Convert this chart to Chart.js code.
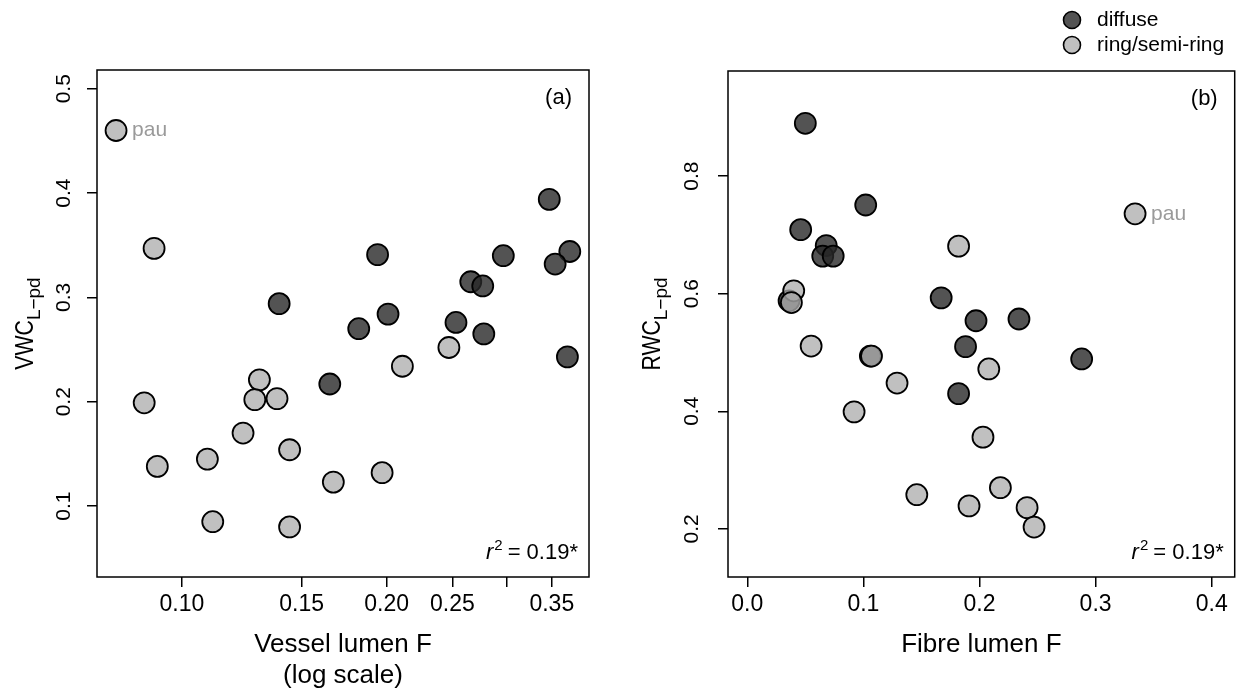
<!DOCTYPE html>
<html>
<head>
<meta charset="utf-8">
<title>Leaf water content vs lumen fraction</title>
<script src="https://cdn.jsdelivr.net/npm/chart.js@4.4.1/dist/chart.umd.min.js"></script>
<style>
  html, body { margin: 0; padding: 0; background: #fff; }
  #wrap { position: relative; width: 1247px; height: 697px; overflow: hidden; }
  #wrap canvas { position: absolute; top: 0; }
  #chart-a { left: 0; }
  #chart-b { left: 623px; }
</style>
</head>
<body>
<div id="wrap">
  <canvas id="chart-a" width="623" height="697"></canvas>
  <canvas id="chart-b" width="624" height="697"></canvas>
</div>
<script>
var FONT = '"Liberation Sans", Arial, Helvetica, sans-serif';
var DARK_FILL = "rgba(40, 40, 40, 0.8)";
var LIGHT_FILL = "rgba(173, 173, 173, 0.77)";

// (a) vessel lumen fraction vs VWC
var vesselDiffuse = [0.347, 0.194, 0.297, 0.372, 0.354, 0.139, 0.266, 0.277, 0.201, 0.182, 0.253, 0.278, 0.369, 0.165];
var vwcDiffuse = [0.394, 0.341, 0.340, 0.344, 0.332, 0.294, 0.315, 0.311, 0.284, 0.270, 0.276, 0.265, 0.243, 0.217];
var vesselRing = [0.080, 0.091, 0.247, 0.211, 0.130, 0.128, 0.138, 0.088, 0.123, 0.144, 0.092, 0.109, 0.167, 0.197, 0.111, 0.144];
var vwcRing = [0.460, 0.347, 0.252, 0.234, 0.221, 0.202, 0.203, 0.199, 0.170, 0.154, 0.138, 0.145, 0.123, 0.132, 0.085, 0.080];

// (b) fibre lumen fraction vs RWC
var fibreDiffuse = [0.050, 0.102, 0.046, 0.068, 0.065, 0.074, 0.036, 0.167, 0.197, 0.234, 0.188, 0.106, 0.288, 0.182];
var rwcDiffuse = [0.890, 0.751, 0.709, 0.682, 0.664, 0.664, 0.588, 0.593, 0.554, 0.557, 0.510, 0.494, 0.489, 0.430];
var fibreRing = [0.334, 0.182, 0.040, 0.038, 0.055, 0.107, 0.208, 0.129, 0.092, 0.203, 0.146, 0.218, 0.191, 0.241, 0.247];
var rwcRing = [0.736, 0.681, 0.605, 0.585, 0.511, 0.494, 0.472, 0.448, 0.399, 0.356, 0.258, 0.270, 0.239, 0.236, 0.203];

// first ring point in each panel is labelled
var ringNames = ["pau"];

var vesselTicks = [0.10, 0.15, 0.20, 0.25, 0.30, 0.35];
var vesselTickLabels = ["0.10", "0.15", "0.20", "0.25", "", "0.35"];
var vwcTicks = [0.1, 0.2, 0.3, 0.4, 0.5];
var vwcTickLabels = ["0.1", "0.2", "0.3", "0.4", "0.5"];
var fibreTicks = [0, 0.1, 0.2, 0.3, 0.4];
var fibreTickLabels = ["0.0", "0.1", "0.2", "0.3", "0.4"];
var rwcTicks = [0.2, 0.4, 0.6, 0.8];
var rwcTickLabels = ["0.2", "0.4", "0.6", "0.8"];

var legendLabels = ["diffuse", "ring/semi-ring"];

(function () {
  function toPoints(xs, ys) {
    return xs.map(function (x, i) { return { x: x, y: ys[i] }; });
  }

  function fixedTicks(values) {
    return function (scale) {
      scale.ticks = values.map(function (v) { return { value: v }; });
    };
  }

  function drawYTitle(ctx, x, yCenter, main, sub) {
    ctx.save();
    ctx.font = "25px " + FONT;
    var wMain = ctx.measureText(main).width * 0.85;
    ctx.font = "19px " + FONT;
    var wSub = ctx.measureText(sub).width;
    var total = wMain + wSub;
    ctx.translate(x, yCenter);
    ctx.rotate(-Math.PI / 2);
    ctx.fillStyle = "#000";
    ctx.textAlign = "left";
    ctx.textBaseline = "alphabetic";
    ctx.save();
    ctx.translate(-total / 2, 0);
    ctx.scale(0.85, 1);
    ctx.font = "25px " + FONT;
    ctx.fillText(main, 0, 0);
    ctx.restore();
    ctx.font = "19px " + FONT;
    ctx.fillText(sub, -total / 2 + wMain, 7);
    ctx.restore();
  }

  function drawR2(ctx, right, baseline) {
    ctx.save();
    ctx.fillStyle = "#000";
    ctx.textBaseline = "alphabetic";
    ctx.textAlign = "left";
    var rest = " = 0.19*";
    ctx.font = "22px " + FONT;
    var wRest = ctx.measureText(rest).width;
    ctx.font = "15px " + FONT;
    var wSup = ctx.measureText("2").width;
    ctx.font = "italic 22px " + FONT;
    var wR = ctx.measureText("r").width;
    var x = right - wRest - wSup - wR;
    ctx.fillText("r", x, baseline);
    ctx.font = "15px " + FONT;
    ctx.fillText("2", x + wR + 1, baseline - 9);
    ctx.font = "22px " + FONT;
    ctx.fillText(rest, x + wR + wSup, baseline);
    ctx.restore();
  }

  function makePanel(canvasId, cfg) {
    var annotate = {
      id: "annotate",
      beforeDatasetsDraw: function (chart) {
        var a = chart.chartArea;
        var ctx = chart.ctx;
        ctx.save();
        ctx.strokeStyle = "#000";
        ctx.lineWidth = 1.5;
        ctx.strokeRect(a.left, a.top, a.right - a.left, a.bottom - a.top);
        ctx.restore();
      },
      afterDraw: function (chart) {
        var ctx = chart.ctx;
        var a = chart.chartArea;
        var xs = chart.scales.x;
        var ys = chart.scales.y;

        drawYTitle(ctx, cfg.yTitleX, (a.top + a.bottom) / 2, cfg.yTitle, "L\u2212pd");

        ctx.save();
        ctx.fillStyle = "#000";
        ctx.font = "22px " + FONT;
        ctx.textAlign = "right";
        ctx.textBaseline = "middle";
        ctx.fillText(cfg.panel, a.right - 17, a.top + 28);
        ctx.restore();

        drawR2(ctx, a.right - 11, a.bottom - 18);

        // species label next to the first ring point
        ctx.save();
        ctx.fillStyle = "#9a9a9a";
        ctx.font = "21px " + FONT;
        ctx.textAlign = "left";
        ctx.textBaseline = "middle";
        ringNames.forEach(function (name, i) {
          var p = cfg.ring[i];
          ctx.fillText(name, xs.getPixelForValue(p.x) + 16, ys.getPixelForValue(p.y));
        });
        ctx.restore();

        if (cfg.legend) {
          var fills = [DARK_FILL, LIGHT_FILL];
          ctx.save();
          legendLabels.forEach(function (lab, i) {
            var cy = 20 + i * 25;
            ctx.beginPath();
            ctx.arc(cfg.legend.x, cy, 8.5, 0, Math.PI * 2);
            ctx.fillStyle = fills[i];
            ctx.fill();
            ctx.lineWidth = 1.6;
            ctx.strokeStyle = "#000";
            ctx.stroke();
            ctx.fillStyle = "#000";
            ctx.font = "21px " + FONT;
            ctx.textAlign = "left";
            ctx.textBaseline = "middle";
            ctx.fillText(lab, cfg.legend.x + 25, cy);
          });
          ctx.restore();
        }
      },
    };

    var tickGrid = {
      display: true,
      drawOnChartArea: false,
      drawTicks: true,
      tickLength: 10,
      color: "#000",
      lineWidth: 1.5,
    };

    return new Chart(document.getElementById(canvasId), {
      type: "scatter",
      data: {
        datasets: [
          {
            label: legendLabels[1],
            data: cfg.ring,
            backgroundColor: LIGHT_FILL,
            borderColor: "#000",
            borderWidth: 1.8,
            pointRadius: 10.5,
            clip: false,
          },
          {
            label: legendLabels[0],
            data: cfg.diffuse,
            backgroundColor: DARK_FILL,
            borderColor: "#000",
            borderWidth: 1.8,
            pointRadius: 10.5,
            clip: false,
          },
        ],
      },
      options: {
        responsive: false,
        animation: false,
        devicePixelRatio: 1,
        layout: { padding: { left: 0, top: cfg.padTop, right: cfg.padRight, bottom: 0 } },
        plugins: {
          legend: { display: false },
          tooltip: { enabled: false },
        },
        scales: {
          x: {
            type: cfg.xType,
            min: cfg.xMin,
            max: cfg.xMax,
            afterBuildTicks: fixedTicks(cfg.xTicks),
            afterFit: function (scale) { scale.height = 120; },
            grid: tickGrid,
            border: { display: false },
            ticks: {
              autoSkip: false,
              maxRotation: 0,
              padding: 4,
              color: "#000",
              font: { family: FONT, size: 23 },
              callback: function (value, index) { return cfg.xTickLabels[index]; },
            },
            title: {
              display: true,
              text: cfg.xTitle,
              color: "#000",
              font: { family: FONT, size: 26, lineHeight: 31 / 26 },
              padding: { top: 0, bottom: cfg.xTitlePad },
            },
          },
          y: {
            type: "linear",
            min: cfg.yMin,
            max: cfg.yMax,
            afterBuildTicks: fixedTicks(cfg.yTicks),
            afterFit: function (scale) { scale.width = cfg.yAxisWidth; },
            grid: tickGrid,
            border: { display: false },
            ticks: {
              autoSkip: false,
              minRotation: 90,
              maxRotation: 90,
              crossAlign: "center",
              padding: cfg.yTickPad,
              color: "#000",
              font: { family: FONT, size: 21 },
              callback: function (value, index) { return cfg.yTickLabels[index]; },
            },
          },
        },
      },
      plugins: [annotate],
    });
  }

  makePanel("chart-a", {
    diffuse: toPoints(vesselDiffuse, vwcDiffuse),
    ring: toPoints(vesselRing, vwcRing),
    xType: "logarithmic",
    xMin: 0.075,
    xMax: 0.397,
    xTicks: vesselTicks,
    xTickLabels: vesselTickLabels,
    xTitle: ["Vessel lumen F", "(log scale)"],
    xTitlePad: 6,
    yMin: 0.032,
    yMax: 0.518,
    yTicks: vwcTicks,
    yTickLabels: vwcTickLabels,
    yAxisWidth: 97,
    yTickPad: 8,
    yTitle: "VWC",
    yTitleX: 33,
    padTop: 70,
    padRight: 34,
    panel: "(a)",
  });

  makePanel("chart-b", {
    diffuse: toPoints(fibreDiffuse, rwcDiffuse),
    ring: toPoints(fibreRing, rwcRing),
    xType: "linear",
    xMin: -0.0166,
    xMax: 0.4198,
    xTicks: fibreTicks,
    xTickLabels: fibreTickLabels,
    xTitle: "Fibre lumen F",
    xTitlePad: 37,
    yMin: 0.118,
    yMax: 0.979,
    yTicks: rwcTicks,
    yTickLabels: rwcTickLabels,
    yAxisWidth: 105,
    yTickPad: 11,
    yTitle: "RWC",
    yTitleX: 37,
    padTop: 71,
    padRight: 11,
    panel: "(b)",
    legend: { x: 449 },
  });
})();
</script>
</body>
</html>
